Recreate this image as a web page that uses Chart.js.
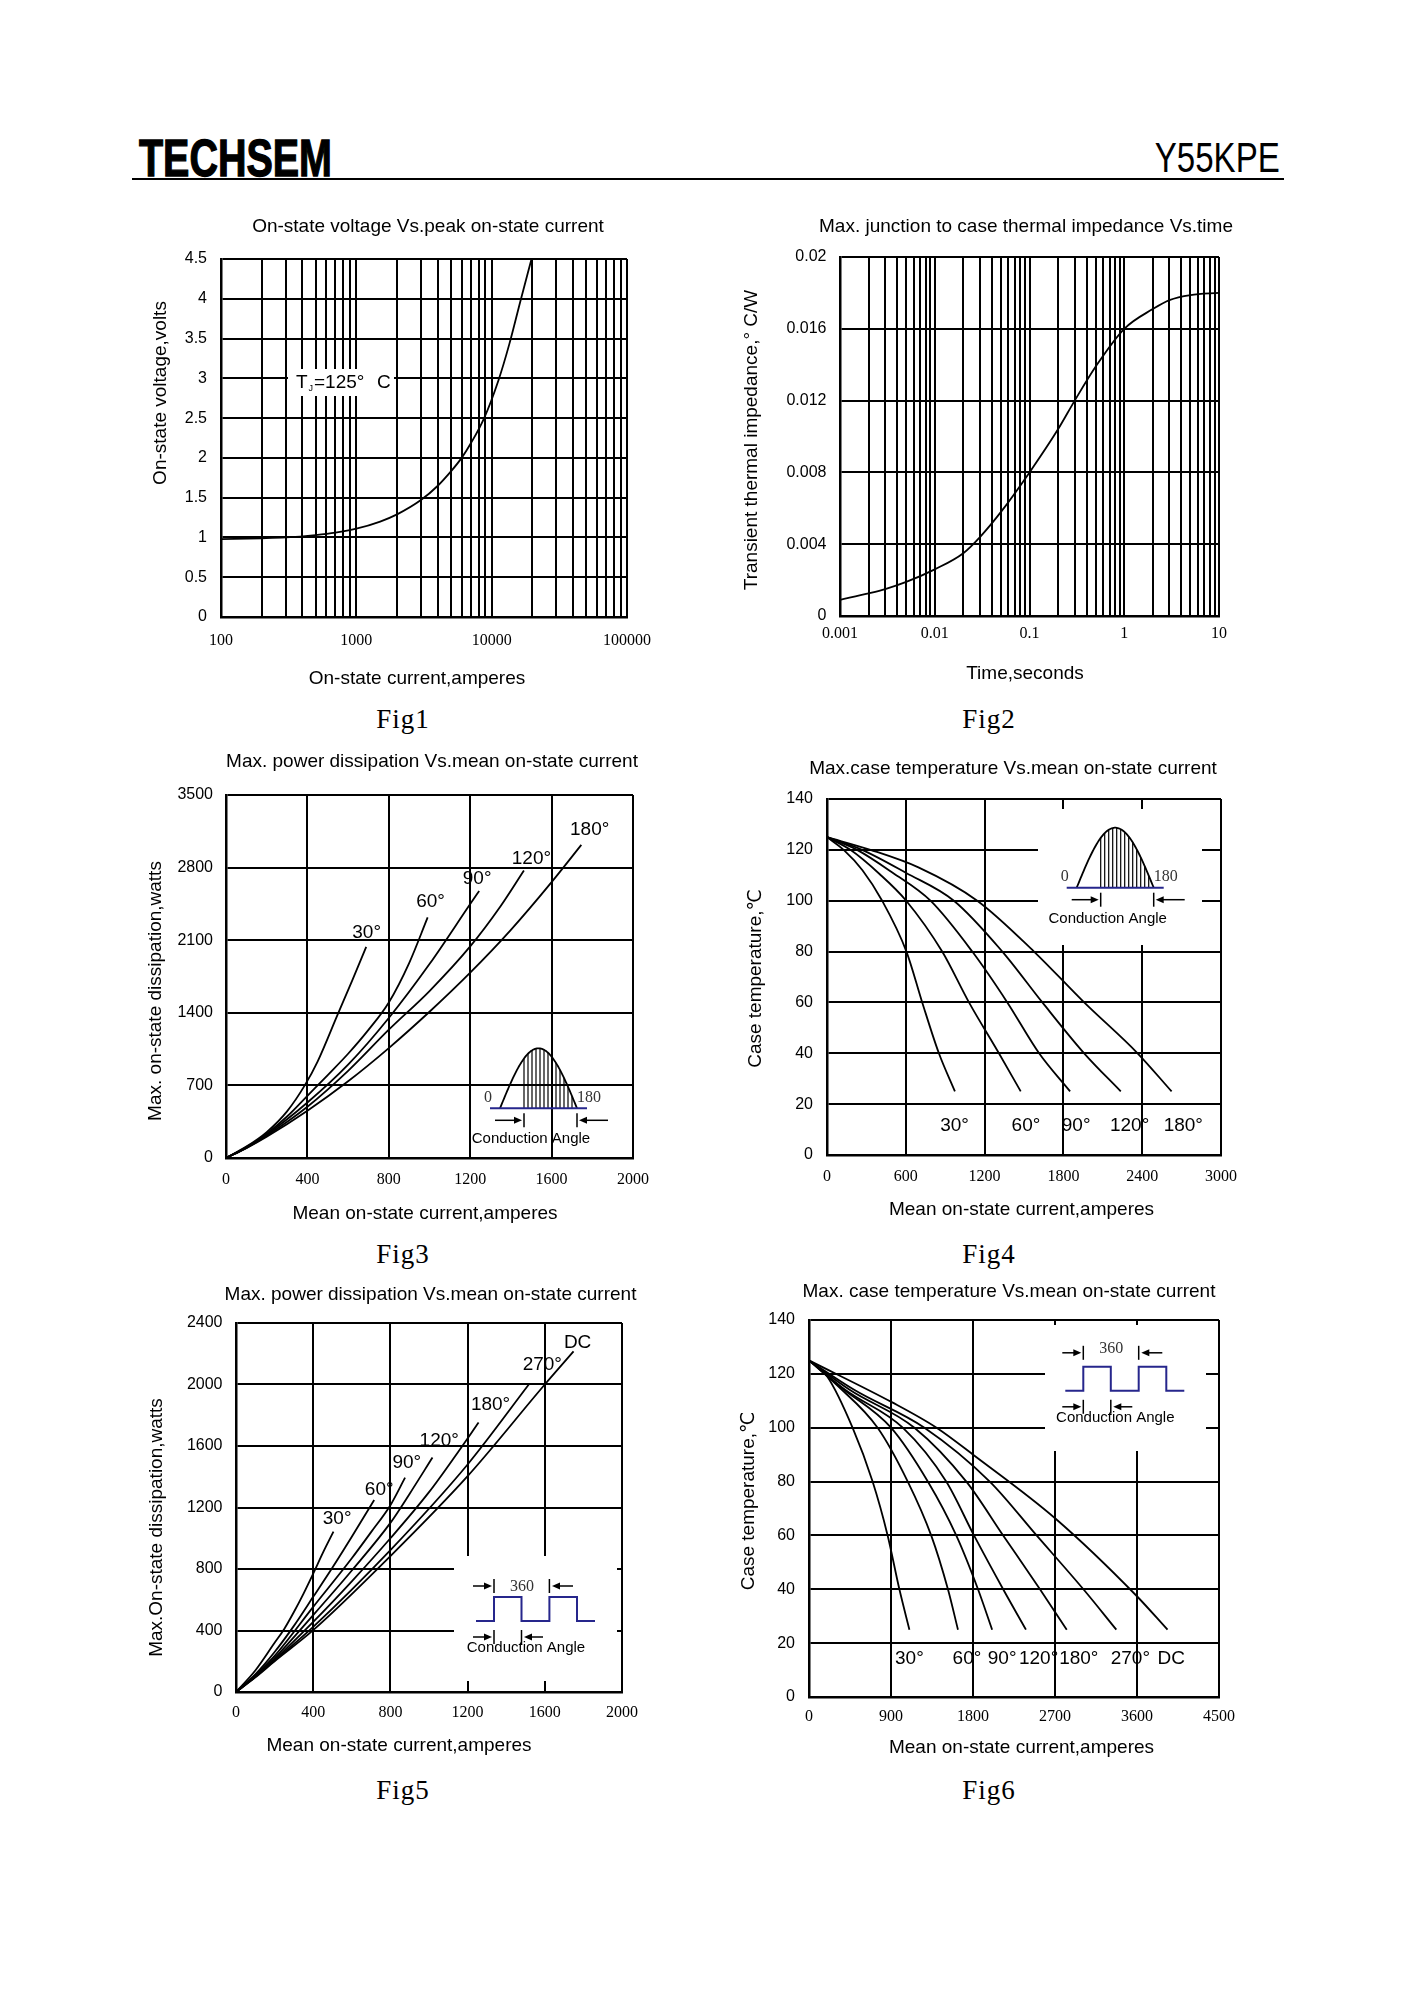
<!DOCTYPE html>
<html><head><meta charset="utf-8">
<script src="https://cdn.jsdelivr.net/npm/chart.js@4.4.1/dist/chart.umd.min.js"></script>
<style>
html,body{margin:0;padding:0;background:#fff;}
body{width:1414px;height:2000px;position:relative;overflow:hidden;font-family:"Liberation Sans",Arial,sans-serif;}
canvas{position:absolute;}
.hdr{position:absolute;white-space:nowrap;line-height:1;color:#000;}
#brand{font-family:"Liberation Sans Narrow","Liberation Sans",Arial,sans-serif;font-weight:bold;font-size:52px;left:139px;top:132px;transform-origin:0 0;-webkit-text-stroke:1.3px #000;}
#model{font-family:"Liberation Sans Narrow","Liberation Sans",Arial,sans-serif;font-size:42px;right:134px;top:137px;transform-origin:100% 0;}
#rule{position:absolute;left:132px;top:178px;width:1152px;height:2px;background:#000;}
.fig{position:absolute;font-family:"Liberation Serif","DejaVu Serif",serif;font-size:27px;letter-spacing:1px;line-height:1;transform:translate(-50%,-50%);color:#000;}
</style></head><body>
<div id="brand" class="hdr">TECHSEM</div>
<div id="model" class="hdr">Y55KPE</div>
<div id="rule"></div>
<canvas id="c1"></canvas><canvas id="c2"></canvas><canvas id="c3"></canvas>
<canvas id="c4"></canvas><canvas id="c5"></canvas><canvas id="c6"></canvas>
<div class="fig" style="left:403px;top:719px">Fig1</div>
<div class="fig" style="left:989px;top:719px">Fig2</div>
<div class="fig" style="left:403px;top:1254px">Fig3</div>
<div class="fig" style="left:989px;top:1254px">Fig4</div>
<div class="fig" style="left:403px;top:1790px">Fig5</div>
<div class="fig" style="left:989px;top:1790px">Fig6</div>
<script>
// ---------------- DATA ----------------
// Fig1: on-state voltage vs peak current (log x)
const fig1Current = [100, 200, 300, 500, 700, 1000, 1500, 2000, 3000, 4000, 5000, 6000, 7000, 8800, 11200, 13500, 16300, 19700];
const fig1Voltage = [0.98, 0.99, 1.0, 1.03, 1.06, 1.11, 1.2, 1.29, 1.47, 1.65, 1.83, 2.0, 2.18, 2.5, 2.97, 3.43, 3.97, 4.5];
const fig1XTicks = [100, 1000, 10000, 100000];
const fig1YTicks = [0, 0.5, 1, 1.5, 2, 2.5, 3, 3.5, 4, 4.5];

// Fig2: transient thermal impedance vs time (log x)
const fig2Time = [0.001, 0.002, 0.003, 0.005, 0.01, 0.02, 0.03, 0.05, 0.1, 0.2, 0.3, 0.5, 1, 2, 3, 5, 10];
const fig2Zth  = [0.0009, 0.00126, 0.0015, 0.0019, 0.0026, 0.0035, 0.0044, 0.0058, 0.008, 0.0104, 0.012, 0.0139, 0.016, 0.0171, 0.0176, 0.01788, 0.018];
const fig2XTicks = [0.001, 0.01, 0.1, 1, 10];
const fig2YTicks = [0, 0.004, 0.008, 0.012, 0.016, 0.02];

// Fig3: power dissipation vs mean current, sine
const fig3Current30  = [0, 100, 200, 300, 387, 450, 550, 620, 689];
const fig3Power30    = [0, 110, 250, 450, 700, 930, 1390, 1710, 2035];
const fig3Current60  = [0, 100, 200, 300, 400, 500, 600, 700, 800, 900, 991];
const fig3Power60    = [0, 105, 235, 400, 600, 800, 1005, 1235, 1500, 1880, 2320];
const fig3Current90  = [0, 100, 200, 400, 600, 800, 1000, 1200, 1244];
const fig3Power90    = [0, 100, 225, 535, 900, 1350, 1870, 2449, 2575];
const fig3Current120 = [0, 100, 200, 400, 600, 800, 1000, 1200, 1350, 1464];
const fig3Power120   = [0, 98, 215, 494, 840, 1237, 1610, 2040, 2430, 2772];
const fig3Current180 = [0, 100, 200, 400, 600, 800, 1000, 1200, 1400, 1600, 1746];
const fig3Power180   = [0, 95, 205, 456, 740, 1060, 1410, 1787, 2200, 2660, 3019];
const fig3XTicks = [0, 400, 800, 1200, 1600, 2000];
const fig3YTicks = [0, 700, 1400, 2100, 2800, 3500];

// Fig4: case temperature vs mean current, sine
const fig4Current30  = [0, 127, 270, 420, 605, 725, 852, 974];
const fig4Temp30     = [125, 120, 112, 100, 80, 60, 40, 25];
const fig4Current60  = [0, 178, 400, 603, 877, 1081, 1309, 1475];
const fig4Temp60     = [125, 120, 110.5, 100, 80, 60, 40, 25];
const fig4Current90  = [0, 229, 500, 788, 1106, 1373, 1615, 1851];
const fig4Temp90     = [125, 120, 111, 100, 80, 60, 40, 25];
const fig4Current120 = [0, 267, 600, 966, 1335, 1640, 1958, 2237];
const fig4Temp120    = [125, 120, 111, 100, 80, 60, 40, 25];
const fig4Current180 = [0, 331, 700, 1144, 1576, 1958, 2365, 2624];
const fig4Temp180    = [125, 120, 113, 100, 80, 60, 40, 25];
const fig4XTicks = [0, 600, 1200, 1800, 2400, 3000];
const fig4YTicks = [0, 20, 40, 60, 80, 100, 120, 140];

// Fig5: power dissipation vs mean current, rectangular
const fig5Current30  = [0, 100, 200, 250, 300, 350, 400, 450, 505];
const fig5Power30    = [0, 140, 320, 410, 520, 640, 770, 905, 1043];
const fig5Current60  = [0, 100, 200, 300, 400, 500, 600, 716];
const fig5Power60    = [0, 115, 260, 430, 619, 810, 1010, 1249];
const fig5Current90  = [0, 100, 200, 400, 600, 700, 800, 876];
const fig5Power90    = [0, 110, 235, 554, 870, 1040, 1215, 1394];
const fig5Current120 = [0, 100, 200, 400, 600, 800, 900, 1018];
const fig5Power120   = [0, 105, 220, 500, 790, 1100, 1290, 1525];
const fig5Current180 = [0, 100, 200, 400, 600, 800, 1000, 1150, 1257];
const fig5Power180   = [0, 100, 210, 456, 720, 1000, 1300, 1560, 1753];
const fig5Current270 = [0, 100, 200, 400, 800, 1200, 1519];
const fig5Power270   = [0, 98, 205, 424, 923, 1480, 2003];
const fig5CurrentDC  = [0, 100, 200, 400, 800, 1200, 1600, 1749];
const fig5PowerDC    = [0, 95, 200, 402, 884, 1404, 2000, 2215];
const fig5XTicks = [0, 400, 800, 1200, 1600, 2000];
const fig5YTicks = [0, 400, 800, 1200, 1600, 2000, 2400];

// Fig6: case temperature vs mean current, rectangular
const fig6Current30  = [0, 200, 478, 698, 863, 992, 1102];
const fig6Temp30     = [125, 119, 100, 80, 60, 40, 25];
const fig6Current60  = [0, 300, 753, 1084, 1341, 1525, 1635];
const fig6Temp60     = [125, 116, 100, 80, 60, 40, 25];
const fig6Current90  = [0, 350, 900, 1304, 1616, 1855, 2010];
const fig6Temp90     = [125, 115, 100, 80, 60, 40, 25];
const fig6Current120 = [0, 400, 1029, 1506, 1811, 2131, 2381];
const fig6Temp120    = [125, 114, 100, 80, 60, 40, 25];
const fig6Current180 = [0, 450, 1157, 1727, 2131, 2535, 2829];
const fig6Temp180    = [125, 114, 100, 80, 60, 40, 25];
const fig6Current270 = [0, 500, 1267, 1984, 2498, 3012, 3373];
const fig6Temp270    = [125, 114, 100, 80, 60, 40, 25];
const fig6CurrentDC  = [0, 914, 1400, 1820, 2707, 3594, 3935];
const fig6TempDC     = [125, 109.4, 100, 89.5, 66.2, 37.6, 25];
const fig6XTicks = [0, 900, 1800, 2700, 3600, 4500];
const fig6YTicks = [0, 20, 40, 60, 80, 100, 120, 140];

const sineLabels = ['30°', '60°', '90°', '120°', '180°'];
const rectLabels = ['30°', '60°', '90°', '120°', '180°', '270°', 'DC'];

// ---------------- RENDERING ----------------
const SANS = '"Liberation Sans", "DejaVu Sans", Arial, sans-serif';
const SERIF = '"Liberation Serif", "DejaVu Serif", "Times New Roman", serif';
const NAVY = '#26268c';
Chart.defaults.font.family = SANS;
Chart.defaults.color = '#000';

function series(xs, ys) {
  return { data: xs.map((x, i) => ({ x: x, y: ys[i] })), borderColor: '#000', borderWidth: 1.8,
    pointRadius: 0, fill: false, tension: 0.4, cubicInterpolationMode: 'monotone' };
}
function logGrid(decades) {
  const out = [];
  decades.forEach((d, i) => {
    if (i < decades.length - 1) { for (let k = 1; k <= 9; k++) out.push(k === 1 ? d : +(d * k).toPrecision(6)); }
    else out.push(d);
  });
  return out;
}
function axis(o) {
  return {
    type: o.type || 'linear', min: o.min, max: o.max,
    afterBuildTicks: s => { s.ticks = o.grid.map(v => ({ value: v })); },
    ticks: { autoSkip: false, maxRotation: 0, minRotation: 0, padding: o.pad, color: '#000',
      font: { family: o.serif ? SERIF : SANS, size: 16 },
      callback: v => (o.labels.indexOf(v) >= 0 ? String(v) : '') },
    grid: { color: '#000', lineWidth: 2, drawTicks: false },
    border: { color: '#000', width: 2.5 }
  };
}
function arrow(ctx, x1, y, x2) {
  const d = Math.sign(x2 - x1);
  ctx.beginPath(); ctx.moveTo(x1, y); ctx.lineTo(x2 - d * 5, y); ctx.stroke();
  ctx.beginPath(); ctx.moveTo(x2, y); ctx.lineTo(x2 - d * 8, y - 3.5); ctx.lineTo(x2 - d * 8, y + 3.5); ctx.closePath(); ctx.fill();
}
function vline(ctx, x, y1, y2) { ctx.beginPath(); ctx.moveTo(x, y1); ctx.lineTo(x, y2); ctx.stroke(); }

function sineInset(ctx, ox, oy) {
  const w = 77, h = 60;
  ctx.save();
  ctx.strokeStyle = '#000'; ctx.fillStyle = '#000';
  ctx.lineWidth = 1.2;
  for (let dx = 24; dx <= 75; dx += 4) vline(ctx, ox + dx, oy, oy - h * Math.sin(Math.PI * dx / w));
  ctx.lineWidth = 1.8;
  ctx.beginPath();
  for (let dx = 0; dx <= w; dx++) { const yy = oy - h * Math.sin(Math.PI * dx / w); if (dx) ctx.lineTo(ox + dx, yy); else ctx.moveTo(ox, yy); }
  ctx.stroke();
  ctx.strokeStyle = NAVY; ctx.lineWidth = 2;
  ctx.beginPath(); ctx.moveTo(ox - 10, oy); ctx.lineTo(ox + 87, oy); ctx.stroke();
  ctx.strokeStyle = '#000'; ctx.lineWidth = 1.5;
  arrow(ctx, ox - 5, oy + 12, ox + 22);
  vline(ctx, ox + 24, oy + 5, oy + 19);
  vline(ctx, ox + 77, oy + 5, oy + 19);
  arrow(ctx, ox + 108, oy + 12, ox + 79);
  ctx.textAlign = 'center'; ctx.textBaseline = 'middle';
  ctx.fillStyle = '#333'; ctx.font = '16px ' + SERIF;
  ctx.fillText('0', ox - 12, oy - 11);
  ctx.fillText('180', ox + 89, oy - 11);
  ctx.fillStyle = '#000'; ctx.font = '15px ' + SANS;
  ctx.fillText('Conduction Angle', ox + 31, oy + 31);
  ctx.restore();
}
function squareInset(ctx, ox, oy, topY, numY) {
  ctx.save();
  ctx.strokeStyle = NAVY; ctx.lineWidth = 2;
  const pts = [[0, 0], [18, 0], [18, -24], [45.5, -24], [45.5, 0], [73.4, 0], [73.4, -24], [101, -24], [101, 0], [119, 0]];
  ctx.beginPath(); pts.forEach((p, i) => i ? ctx.lineTo(ox + p[0], oy + p[1]) : ctx.moveTo(ox + p[0], oy + p[1])); ctx.stroke();
  ctx.strokeStyle = '#000'; ctx.fillStyle = '#000'; ctx.lineWidth = 1.5;
  arrow(ctx, ox - 3, oy + topY, ox + 16);
  vline(ctx, ox + 18, oy + topY - 7, oy + topY + 7);
  vline(ctx, ox + 73.4, oy + topY - 7, oy + topY + 7);
  arrow(ctx, ox + 97, oy + topY, ox + 76);
  arrow(ctx, ox - 3, oy + 16, ox + 16);
  vline(ctx, ox + 18, oy + 9, oy + 23);
  vline(ctx, ox + 45.5, oy + 9, oy + 23);
  arrow(ctx, ox + 67, oy + 16, ox + 48);
  ctx.textAlign = 'center'; ctx.textBaseline = 'middle';
  ctx.fillStyle = '#333'; ctx.font = '16px ' + SERIF;
  ctx.fillText('360', ox + 46, oy + numY);
  ctx.fillStyle = '#000'; ctx.font = '15px ' + SANS;
  ctx.fillText('Conduction Angle', ox + 50, oy + 27);
  ctx.restore();
}

function decor(cfg) {
  return {
    id: 'decor',
    beforeDatasetsDraw(chart) {
      const ctx = chart.ctx, a = chart.chartArea;
      if (cfg.box) { ctx.save(); ctx.fillStyle = '#fff'; ctx.fillRect(a.left + cfg.box[0], a.top + cfg.box[1], cfg.box[2], cfg.box[3]); ctx.restore(); }
    },
    afterDatasetsDraw(chart) {
      const ctx = chart.ctx, a = chart.chartArea, xs = chart.scales.x, ys = chart.scales.y;
      if (cfg.inset) cfg.inset(ctx, a);
      if (cfg.labels) {
        ctx.save(); ctx.font = '19px ' + SANS; ctx.fillStyle = '#000'; ctx.textAlign = 'center'; ctx.textBaseline = 'middle';
        cfg.labels.forEach(l => ctx.fillText(l.text, xs.getPixelForValue(l.x), ys.getPixelForValue(l.y)));
        ctx.restore();
      }
      if (cfg.extra) cfg.extra(ctx, a);
    },
    afterDraw(chart) {
      const ctx = chart.ctx, o = cfg.origin;
      ctx.save(); ctx.fillStyle = '#000'; ctx.font = '19px ' + SANS; ctx.textAlign = 'center'; ctx.textBaseline = 'middle';
      ctx.fillText(cfg.title, cfg.titlePos[0] - o[0], cfg.titlePos[1] - o[1]);
      ctx.fillText(cfg.xTitle, cfg.xTitlePos[0] - o[0], cfg.xTitlePos[1] - o[1]);
      ctx.translate(cfg.yTitlePos[0] - o[0], cfg.yTitlePos[1] - o[1]); ctx.rotate(-Math.PI / 2);
      ctx.fillText(cfg.yTitle, 0, 0);
      ctx.restore();
    }
  };
}

function build(id, g, xCfg, yCfg, datasets, dec) {
  const L = Math.round(g.yTitlePos[0] - 16), T = Math.round(g.titlePos[1] - 14);
  const [pl, pt, pr, pb] = g.plot;
  const R = Math.max(pr + 50, Math.round(g.titlePos[0] + 240)), B = Math.round(g.xTitlePos[1] + 16);
  const cv = document.getElementById(id);
  cv.width = R - L; cv.height = B - T;
  cv.style.left = L + 'px'; cv.style.top = T + 'px';
  cv.style.width = (R - L) + 'px'; cv.style.height = (B - T) + 'px';
  xCfg.afterFit = s => { s.height = B - pb; };
  yCfg.afterFit = s => { s.width = pl - L; };
  Object.assign(dec, { origin: [L, T], title: g.title, titlePos: g.titlePos, xTitle: g.xTitle, yTitle: g.yTitle,
    xTitlePos: g.xTitlePos, yTitlePos: g.yTitlePos });
  new Chart(cv, {
    type: 'line',
    data: { datasets: datasets },
    options: {
      responsive: false, animation: false, events: [],
      layout: { padding: { left: 0, top: pt - T, bottom: 0, right: R - pr }, autoPadding: false },
      plugins: { legend: { display: false }, tooltip: { enabled: false }, title: { display: false } },
      scales: { x: xCfg, y: yCfg }
    },
    plugins: [decor(dec)]
  });
}

// Fig1
build('c1', {
  plot: [221, 259, 627, 617], titlePos: [428, 227], xTitlePos: [417, 679], yTitlePos: [160.5, 393],
  title: 'On-state voltage Vs.peak on-state current', xTitle: 'On-state current,amperes', yTitle: 'On-state voltage,volts'
},
  axis({ type: 'logarithmic', min: 100, max: 100000, grid: logGrid(fig1XTicks), labels: fig1XTicks, pad: 14.5, serif: true }),
  axis({ min: 0, max: 4.5, grid: fig1YTicks, labels: fig1YTicks, pad: 14 }),
  [series(fig1Current, fig1Voltage)],
  {
    box: [67, 110, 106, 27],
    extra: (ctx, a) => {
      ctx.save(); ctx.fillStyle = '#000'; ctx.textAlign = 'left'; ctx.textBaseline = 'alphabetic';
      ctx.font = '19px ' + SANS; ctx.fillText('T', a.left + 75, a.top + 128.5);
      ctx.font = '9px ' + SANS; ctx.fillText('J', a.left + 87.5, a.top + 131.5);
      ctx.font = '19px ' + SANS; ctx.fillText('=125°', a.left + 93, a.top + 128.5);
      ctx.fillText('C', a.left + 156, a.top + 128.5);
      ctx.restore();
    }
  });

// Fig2
build('c2', {
  plot: [840, 257, 1219, 616], titlePos: [1026, 227], xTitlePos: [1025, 674], yTitlePos: [752, 440],
  title: 'Max. junction to case thermal impedance Vs.time', xTitle: 'Time,seconds', yTitle: 'Transient thermal impedance,° C/W'
},
  axis({ type: 'logarithmic', min: 0.001, max: 10, grid: logGrid(fig2XTicks), labels: fig2XTicks, pad: 8, serif: true }),
  axis({ min: 0, max: 0.02, grid: fig2YTicks, labels: fig2YTicks, pad: 13.5 }),
  [series(fig2Time, fig2Zth)], {});

// Fig3
build('c3', {
  plot: [226, 795, 633, 1158], titlePos: [432, 762], xTitlePos: [425, 1214], yTitlePos: [156, 991],
  title: 'Max. power dissipation Vs.mean on-state current', xTitle: 'Mean on-state current,amperes', yTitle: 'Max. on-state dissipation,watts'
},
  axis({ min: 0, max: 2000, grid: fig3XTicks, labels: fig3XTicks, pad: 12, serif: true }),
  axis({ min: 0, max: 3500, grid: fig3YTicks, labels: fig3YTicks, pad: 13 }),
  [series(fig3Current30, fig3Power30), series(fig3Current60, fig3Power60), series(fig3Current90, fig3Power90),
   series(fig3Current120, fig3Power120), series(fig3Current180, fig3Power180)],
  {
    inset: (ctx, a) => sineInset(ctx, a.left + 274, a.top + 313.3),
    labels: [
      { text: sineLabels[0], x: 691, y: 2174 }, { text: sineLabels[1], x: 1005, y: 2469 },
      { text: sineLabels[2], x: 1234, y: 2688 }, { text: sineLabels[3], x: 1501, y: 2890 },
      { text: sineLabels[4], x: 1787, y: 3163 }]
  });

// Fig4
build('c4', {
  plot: [827, 799, 1221, 1155], titlePos: [1013, 769], xTitlePos: [1021.5, 1210], yTitlePos: [756, 978.5],
  title: 'Max.case temperature Vs.mean on-state current', xTitle: 'Mean on-state current,amperes', yTitle: 'Case temperature,℃'
},
  axis({ min: 0, max: 3000, grid: fig4XTicks, labels: fig4XTicks, pad: 12, serif: true }),
  axis({ min: 0, max: 140, grid: fig4YTicks, labels: fig4YTicks, pad: 14 }),
  [series(fig4Current30, fig4Temp30), series(fig4Current60, fig4Temp60), series(fig4Current90, fig4Temp90),
   series(fig4Current120, fig4Temp120), series(fig4Current180, fig4Temp180)],
  {
    box: [211, 10, 164, 136],
    inset: (ctx, a) => sineInset(ctx, a.left + 249.7, a.top + 88.7),
    labels: [
      { text: sineLabels[0], x: 971, y: 11.6 }, { text: sineLabels[1], x: 1515, y: 11.6 },
      { text: sineLabels[2], x: 1897, y: 11.6 }, { text: sineLabels[3], x: 2304, y: 11.6 },
      { text: sineLabels[4], x: 2713, y: 11.6 }]
  });

// Fig5
build('c5', {
  plot: [236, 1323, 622, 1692], titlePos: [430.5, 1295], xTitlePos: [399, 1746], yTitlePos: [157, 1527.5],
  title: 'Max. power dissipation Vs.mean on-state current', xTitle: 'Mean on-state current,amperes', yTitle: 'Max.On-state dissipation,watts'
},
  axis({ min: 0, max: 2000, grid: fig5XTicks, labels: fig5XTicks, pad: 11, serif: true }),
  axis({ min: 0, max: 2400, grid: fig5YTicks, labels: fig5YTicks, pad: 13.5 }),
  [series(fig5Current30, fig5Power30), series(fig5Current60, fig5Power60), series(fig5Current90, fig5Power90),
   series(fig5Current120, fig5Power120), series(fig5Current180, fig5Power180), series(fig5Current270, fig5Power270),
   series(fig5CurrentDC, fig5PowerDC)],
  {
    box: [218, 233, 163, 125],
    inset: (ctx, a) => squareInset(ctx, a.left + 240, a.top + 298, -35, -34),
    labels: [
      { text: rectLabels[0], x: 524, y: 1129 }, { text: rectLabels[1], x: 742, y: 1314 },
      { text: rectLabels[2], x: 885, y: 1488 }, { text: rectLabels[3], x: 1053, y: 1636 },
      { text: rectLabels[4], x: 1319, y: 1868 }, { text: rectLabels[5], x: 1587, y: 2129 },
      { text: rectLabels[6], x: 1770, y: 2270 }]
  });

// Fig6
build('c6', {
  plot: [809, 1320, 1219, 1697], titlePos: [1009, 1292], xTitlePos: [1021.5, 1748], yTitlePos: [749, 1501],
  title: 'Max. case temperature Vs.mean on-state current', xTitle: 'Mean on-state current,amperes', yTitle: 'Case temperature,℃'
},
  axis({ min: 0, max: 4500, grid: fig6XTicks, labels: fig6XTicks, pad: 10, serif: true }),
  axis({ min: 0, max: 140, grid: fig6YTicks, labels: fig6YTicks, pad: 14 }),
  [series(fig6Current30, fig6Temp30), series(fig6Current60, fig6Temp60), series(fig6Current90, fig6Temp90),
   series(fig6Current120, fig6Temp120), series(fig6Current180, fig6Temp180), series(fig6Current270, fig6Temp270),
   series(fig6CurrentDC, fig6TempDC)],
  {
    box: [236, 5, 161, 126],
    inset: (ctx, a) => squareInset(ctx, a.left + 256.3, a.top + 70.8, -38, -42),
    labels: [
      { text: rectLabels[0], x: 1102, y: 14.3 }, { text: rectLabels[1], x: 1734, y: 14.3 },
      { text: rectLabels[2], x: 2120, y: 14.3 }, { text: rectLabels[3], x: 2520, y: 14.3 },
      { text: rectLabels[4], x: 2961, y: 14.3 }, { text: rectLabels[5], x: 3527, y: 14.3 },
      { text: rectLabels[6], x: 3975, y: 14.3 }]
  });

// header text width fitting
(function () {
  const b = document.getElementById('brand'), m = document.getElementById('model');
  const bw = b.getBoundingClientRect().width, mw = m.getBoundingClientRect().width;
  b.style.transform = 'scaleX(' + (193 / bw) + ')';
  m.style.transform = 'scaleX(' + (125 / mw) + ')';
})();
</script>
</body></html>
